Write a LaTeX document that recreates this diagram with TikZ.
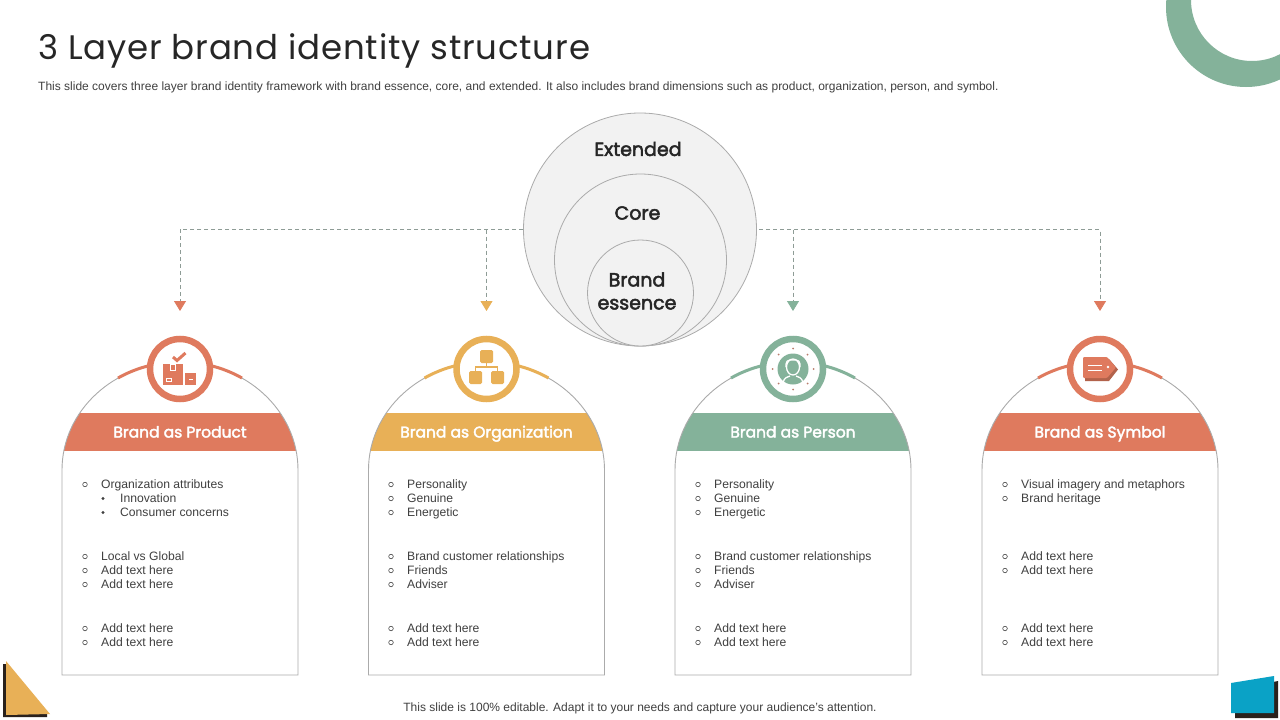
\documentclass[tikz,border=0pt]{standalone}
\usepackage{fontspec}
\setmainfont{Liberation Sans}
\newfontfamily\headf[LetterSpace=2.4]{Poppins}
\newfontfamily\headb[FakeBold=2.5]{Poppins}
\usetikzlibrary{arrows.meta,calc}
\definecolor{cred}{HTML}{DF7A5E}
\definecolor{cyel}{HTML}{E8B057}
\definecolor{cgrn}{HTML}{84B29A}
\definecolor{cblu}{HTML}{0AA2C6}
\definecolor{cdrk}{HTML}{2A211C}
\definecolor{ctxt}{HTML}{404040}
\definecolor{cedge}{HTML}{ABABAB}
\definecolor{cfill}{HTML}{F2F2F2}
\definecolor{cdash}{HTML}{8E9C96}
\tikzset{
  lay/.style={circle,draw=cedge,fill=cfill,line width=.8pt,inner sep=0pt,minimum size=#1},
  laytxt/.style={font=\headb\fontsize{19}{23}\selectfont,text=black!85,align=center,inner sep=0pt},
  bandtxt/.style={font=\headb\fontsize{15.5}{20}\selectfont,text=white,inner sep=0pt,anchor=base},
  ringn/.style={circle,draw=#1,fill=white,line width=6.5pt,inner sep=0pt,minimum size=60pt},
  itemt/.style={anchor=base west,font=\fontsize{12.15}{14}\selectfont,text=ctxt,inner sep=0pt},
  conn/.style={draw=cdash,line width=.8pt,dash pattern=on 4pt off 3pt},
  cardedge/.style={draw=cedge,line width=.9pt},
}
\newcounter{nn}
\newcommand{\itm}[3]{\stepcounter{nn}\draw[ctxt,line width=.55pt] (#1,#2-4.5) circle (2.3);\node[itemt] (t\thenn) at (#1+16,#2-.5) {#3};}
\newcommand{\sub}[3]{\stepcounter{nn}\fill[ctxt] (#1+18,#2-4.5) circle (1.6);\node[itemt] (t\thenn) at (#1+35,#2-.5) {#3};}
\newcommand{\card}[4]{%
  \begin{scope}
    \clip (#1-118,470) arc[start angle=180,end angle=360,x radius=118,y radius=108] -- cycle;
    \fill[#2] (#1-125,413) rectangle (#1+125,451);
  \end{scope}
  \draw[cardedge] (#1-118,675) -- (#1-118,470) arc[start angle=180,end angle=360,x radius=118,y radius=108] -- (#1+118,675) -- cycle;
  \draw[#2,line width=3pt] (#1-62,378) arc[start angle=238.3,end angle=259,x radius=118,y radius=108];
  \draw[#2,line width=3pt] (#1+62,378) arc[start angle=301.7,end angle=281,x radius=118,y radius=108];
  \node[ringn=#2] (#4) at (#1,369) {};
  \node[bandtxt] (#4t) at (#1,437.5) {#3};
}
\begin{document}
\begin{tikzpicture}[x=1pt,y=-1pt]
\useasboundingbox (0,0) rectangle (1280,720);
\fill[white] (0,0) rectangle (1280,720);
% decorations
\begin{scope}
  \clip (0,0) rectangle (1280,720);
  \fill[cgrn,even odd rule] (1246,7) circle (80) (1252,0) circle (61);
\end{scope}
\fill[cdrk] (3,664) -- (6,664) -- (6,714) -- (47,714) -- (47,717) -- (3,717) -- cycle;
\fill[cyel] (6,661) -- (50,714) -- (6,715) -- cycle;
\fill[cdrk] (1235,690) -- (1278,681) -- (1278,718) -- (1235,718) -- cycle;
\fill[cblu] (1231,683) -- (1274,676) -- (1274,713) -- (1231,713) -- cycle;
% title
\node[anchor=base west,inner sep=0pt,font=\headf\fontsize{34}{40}\selectfont,text=black!85] (title) at (38,59.5) {3 Layer brand identity structure};
\node[anchor=base west,inner sep=0pt,font=\fontsize{12}{14}\selectfont,text=ctxt] (subt) at (38,90.5) {This slide covers three layer brand identity framework with brand essence, core, and extended. It also includes brand dimensions such as product, organization, person, and symbol.};
\node[anchor=base,inner sep=0pt,font=\fontsize{12}{14}\selectfont,text=ctxt] (foot) at (640,711.5) {This slide is 100\% editable. Adapt it to your needs and capture your audience's attention.};
% layers
\node[lay=233pt] (ext) at (640,229.5) {};
\node[lay=172pt] (core) at (640.5,260) {};
\node[lay=106pt] (ess) at (640.5,293) {};
\node[laytxt] (lext) at (638,149) {Extended};
\node[laytxt] (lcore) at (637.5,213) {Core};
\node[laytxt] (less) at (637,291) {Brand\\essence};
% cards
\card{180}{cred}{Brand as Product}{c1}
\card{486.5}{cyel}{Brand as Organization}{c2}
\card{793}{cgrn}{Brand as Person}{c3}
\card{1100}{cred}{Brand as Symbol}{c4}
% connectors
\coordinate (t1) at (180,311);\coordinate (t2) at (486.5,311);\coordinate (t3) at (793,311);\coordinate (t4) at (1100,311);
\coordinate (b2) at (486.5,229.5);\coordinate (b3) at (793,229.5);
\coordinate (rs) at (759,229.5);
\draw[conn,-{Triangle[color=cred,width=12pt,length=10pt]}] (ext.west) -| (t1);
\draw[conn,-{Triangle[color=cyel,width=12pt,length=10pt]}] (b2) -- (t2);
\draw[conn,-{Triangle[color=cgrn,width=12pt,length=10pt]}] (b3) -- (t3);
\draw[conn,-{Triangle[color=cred,width=12pt,length=10pt]}] (rs) -| (t4);
% icon 1 : boxes
\fill[cred] (163,364) rectangle (183,385);
\fill[cred] (185,373) rectangle (196,385);
\draw[white,line width=.7pt] (170.5,364) rectangle (175.5,370);
\draw[white,line width=.7pt] (166,378) rectangle (171,381);
\fill[white] (188.5,379) rectangle (192.5,380);
\draw[cred,line width=3pt] (173,357) -- (177,360.5) -- (185.5,353);
% icon 2 : hierarchy
\draw[cyel,line width=1.8pt] (486.5,360) -- (486.5,367) (475.5,376) -- (475.5,367) -- (497.5,367) -- (497.5,376);
\fill[cyel,rounded corners=1.5pt] (480,350) rectangle (493,363);
\fill[cyel,rounded corners=1.5pt] (469,371) rectangle (482,384);
\fill[cyel,rounded corners=1.5pt] (491,371) rectangle (504,384);
% icon 3 : person
\fill[cgrn] (793,369) circle (15.5);
\draw[white,line width=1.3pt,rounded corners=4pt] (786,367) -- (786,360) -- (800,360) -- (800,367);
\draw[white,line width=1.3pt] (793,367) ellipse (6.5 and 8);
\draw[white,line width=1.3pt] (783,383) .. controls (784,377) and (788,377) .. (790,376) (803,383) .. controls (802,377) and (798,377) .. (796,376);
\foreach \a in {0,45,...,315}{\fill[cred!60!gray] ($(793,369)+(\a:20.5)$) circle (1);}
% icon 4 : tag
\fill[cred!80!black] (1085,359) -- (1109,359) -- (1118,369.5) -- (1109,381) -- (1085,381) -- cycle;
\fill[cred,rounded corners=1pt] (1083,357) -- (1107,357) -- (1116,367.5) -- (1107,378) -- (1083,378) -- cycle;
\fill[white] (1108,367) circle (1.4);
\draw[white,line width=.8pt] (1088,365.5) -- (1102,365.5) (1088,370) -- (1102,370);
% lists
\itm{85}{489}{Organization attributes}
\sub{85}{503}{Innovation}
\sub{85}{517}{Consumer concerns}
\itm{85}{561}{Local vs Global}
\itm{85}{575}{Add text here}
\itm{85}{589}{Add text here}
\itm{85}{633}{Add text here}
\itm{85}{647}{Add text here}
\foreach \x in {391,698}{
\itm{\x}{489}{Personality}
\itm{\x}{503}{Genuine}
\itm{\x}{517}{Energetic}
\itm{\x}{561}{Brand customer relationships}
\itm{\x}{575}{Friends}
\itm{\x}{589}{Adviser}
\itm{\x}{633}{Add text here}
\itm{\x}{647}{Add text here}
}
\itm{1005}{489}{Visual imagery and metaphors}
\itm{1005}{503}{Brand heritage}
\itm{1005}{561}{Add text here}
\itm{1005}{575}{Add text here}
\itm{1005}{633}{Add text here}
\itm{1005}{647}{Add text here}
\end{tikzpicture}
\end{document}
